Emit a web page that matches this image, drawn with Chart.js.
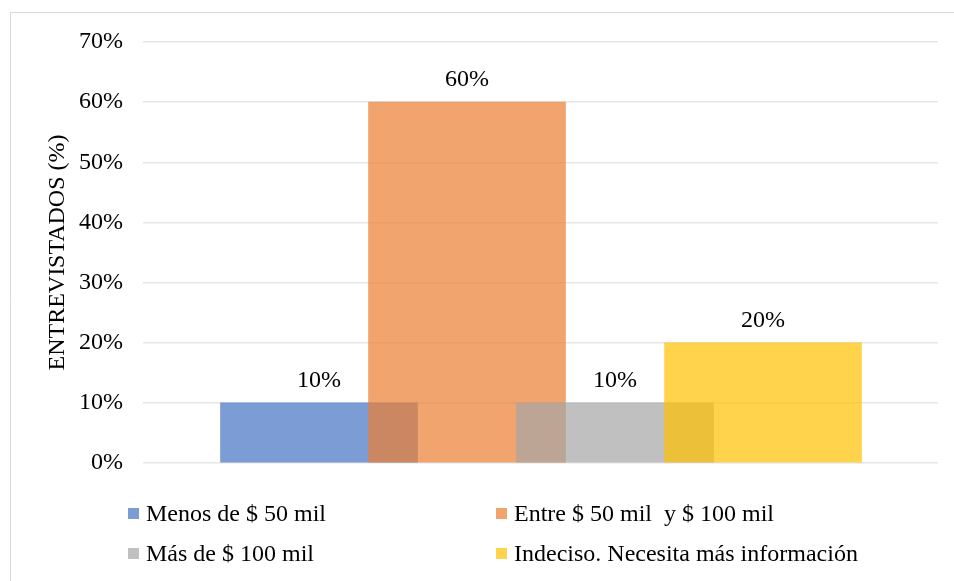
<!DOCTYPE html>
<html>
<head>
<meta charset="utf-8">
<script src="https://cdn.jsdelivr.net/npm/chart.js@4/dist/chart.umd.min.js"></script>
<style>
  html, body { margin: 0; padding: 0; background: #ffffff; }
  #wrap { width: 954px; height: 581px; }
</style>
</head>
<body>
<div id="wrap"><canvas id="chart" width="954" height="581"></canvas></div>
<script>
// Survey answers: share of interviewees per price range (percent)
const seriesNames = [
  'Menos de $ 50 mil',
  'Entre $ 50 mil  y $ 100 mil',
  'Más de $ 100 mil',
  'Indeciso. Necesita más información'
];
const seriesValues = [10, 60, 10, 20];
const seriesColors = [
  'rgba(68, 114, 196, 0.7)',
  'rgba(237, 125, 49, 0.7)',
  'rgba(165, 165, 165, 0.7)',
  'rgba(255, 192, 0, 0.7)'
];
const yTicks = [0, 10, 20, 30, 40, 50, 60, 70];
const yTitle = 'ENTREVISTADOS (%)';

const FONT = '"Liberation Serif", "Times New Roman", serif';

// Outer frame of the chart area
const framePlugin = {
  id: 'frame',
  beforeDraw(chart) {
    const ctx = chart.ctx;
    ctx.save();
    ctx.strokeStyle = '#d9d9d9';
    ctx.lineWidth = 1;
    ctx.beginPath();
    ctx.moveTo(10.5, chart.height + 2);
    ctx.lineTo(10.5, 12.5);
    ctx.lineTo(chart.width + 2, 12.5);
    ctx.stroke();
    ctx.restore();
  }
};

// Value labels above each bar
const valueLabelPlugin = {
  id: 'valueLabels',
  afterDatasetsDraw(chart) {
    const ctx = chart.ctx;
    ctx.save();
    ctx.font = '24px ' + FONT;
    ctx.fillStyle = '#000000';
    ctx.textAlign = 'center';
    ctx.textBaseline = 'alphabetic';
    chart.data.datasets.forEach((ds, i) => {
      const meta = chart.getDatasetMeta(i);
      meta.data.forEach((bar, j) => {
        const v = ds.data[j].y;
        ctx.fillText(v + '%', bar.x, bar.y - 16);
      });
    });
    ctx.restore();
  }
};

// Two-column legend under the plot
const legendPlugin = {
  id: 'gridLegend',
  afterDraw(chart) {
    const ctx = chart.ctx;
    const cols = [128, 496];
    const baselines = [521, 561];
    const box = 11;
    ctx.save();
    ctx.font = '24px ' + FONT;
    ctx.textBaseline = 'alphabetic';
    ctx.textAlign = 'left';
    chart.data.datasets.forEach((ds, i) => {
      const x = cols[i % 2];
      const y = baselines[Math.floor(i / 2)];
      ctx.fillStyle = ds.backgroundColor;
      ctx.fillRect(x, y - 13, box, box);
      ctx.fillStyle = '#000000';
      ctx.fillText(ds.label, x + 18, y);
    });
    ctx.restore();
  }
};

const datasets = seriesNames.map((name, i) => ({
  label: name,
  data: [{ x: i, y: seriesValues[i] }],
  backgroundColor: seriesColors[i],
  borderWidth: 0,
  order: seriesNames.length - i
}));

new Chart(document.getElementById('chart'), {
  type: 'bar',
  data: { datasets },
  plugins: [framePlugin, valueLabelPlugin, legendPlugin],
  options: {
    responsive: false,
    animation: false,
    devicePixelRatio: 1,
    grouped: false,
    barThickness: 197,
    layout: { padding: { top: 42, bottom: 118, left: 10, right: 16 } },
    plugins: {
      legend: { display: false },
      tooltip: { enabled: false }
    },
    scales: {
      x: {
        type: 'linear',
        display: false,
        offset: false,
        min: -1.189,
        max: 4.182
      },
      y: {
        min: 0,
        max: 70,
        afterBuildTicks(axis) {
          axis.ticks = yTicks.map(v => ({ value: v }));
        },
        afterFit(axis) { axis.width = 133; },
        border: { display: false },
        grid: { color: '#e6e6e6', lineWidth: 1.5, drawTicks: false },
        ticks: {
          padding: 20,
          color: '#000000',
          font: { family: FONT, size: 24 },
          callback: v => v + '%'
        },
        title: {
          display: true,
          text: yTitle,
          color: '#000000',
          font: { family: FONT, size: 24 },
          padding: { top: 33, bottom: 0 }
        }
      }
    }
  }
});
</script>
</body>
</html>
